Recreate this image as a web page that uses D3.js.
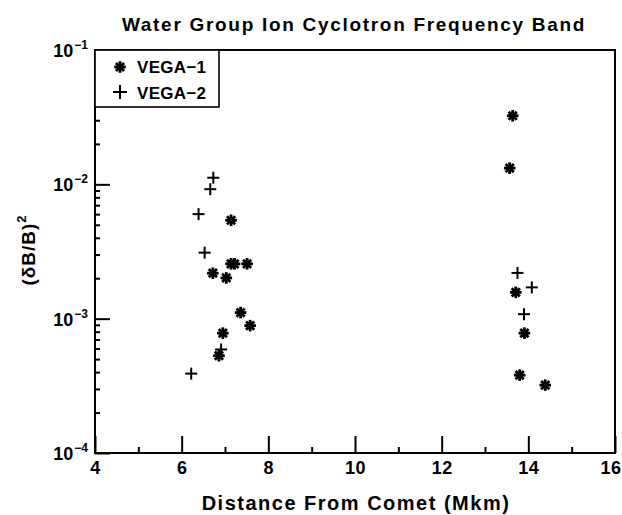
<!DOCTYPE html>
<html>
<head>
<meta charset="utf-8">
<script src="https://cdn.jsdelivr.net/npm/d3@7"></script>
<style>
  body { margin: 0; background: #fff; }
  text { font-family: "Liberation Sans", Arial, sans-serif; fill: #000; }
</style>
</head>
<body>
<div id="plot"></div>
<script>
// chart size and plot box
var width = 622,
    height = 515,
    margin = {top: 50, right: 7, bottom: 62, left: 95};

// VEGA-1 points (asterisks)
var vega1X = [7.14, 7.14, 7.22, 7.51, 6.72, 7.03, 7.36, 7.58, 6.95, 6.86,
              13.64, 13.57, 13.71, 13.91, 13.80, 14.39];
var vega1Y = [0.0054, 0.00256, 0.00256, 0.00256, 0.00218, 0.00201, 0.00111, 0.000887, 0.00078, 0.00053,
              0.0324, 0.0132, 0.00157, 0.00078, 0.00038, 0.00032];

// VEGA-2 points (plus signs)
var vega2X = [6.73, 6.66, 6.39, 6.53, 6.91, 6.22, 13.75, 14.08, 13.90];
var vega2Y = [0.0112, 0.0092, 0.0060, 0.0031, 0.00059, 0.00039, 0.00219, 0.00171, 0.00108];

var xTicks = [4, 6, 8, 10, 12, 14, 16];
var xMinor = [5, 7, 9, 11, 13, 15];
var yExp = [-4, -3, -2, -1];

var svg = d3.select("#plot").append("svg")
    .attr("width", width)
    .attr("height", height);

var x = d3.scaleLinear().domain([4, 16]).range([margin.left, width - margin.right]);
var y = d3.scaleLog().domain([1e-4, 1e-1]).range([height - margin.bottom, margin.top]);

// minor log ticks 2..9 in each decade
var yMinor = [];
yExp.slice(0, 3).forEach(function(e) {
  for (var m = 2; m <= 9; m++) yMinor.push(m * Math.pow(10, e));
});

// plot frame
svg.append("rect")
    .attr("x", x(4)).attr("y", y(1e-1))
    .attr("width", x(16) - x(4)).attr("height", y(1e-4) - y(1e-1))
    .attr("fill", "none").attr("stroke", "#000").attr("stroke-width", 2);

// x axis, ticks inward
var xAxis = svg.append("g").attr("transform", "translate(0," + y(1e-4) + ")");
xAxis.call(d3.axisBottom(x).tickValues(xTicks).tickSizeInner(-17).tickSizeOuter(0).tickPadding(8).tickFormat(d3.format("d")));
svg.append("g").attr("transform", "translate(0," + y(1e-4) + ")")
    .call(d3.axisBottom(x).tickValues(xMinor).tickSizeInner(-6).tickSizeOuter(0).tickFormat(""));

// y axis, ticks inward
var yAxis = svg.append("g").attr("transform", "translate(" + x(4) + ",0)");
yAxis.call(d3.axisLeft(y).tickValues(yExp.map(function(e) { return Math.pow(10, e); }))
    .tickSizeInner(-15).tickSizeOuter(0).tickFormat(""));
svg.append("g").attr("transform", "translate(" + x(4) + ",0)")
    .call(d3.axisLeft(y).tickValues(yMinor).tickSizeInner(-5).tickSizeOuter(0).tickFormat(""));

svg.selectAll(".domain").remove();
svg.selectAll(".tick line").attr("stroke", "#000").attr("stroke-width", 2);
xAxis.selectAll(".tick text")
    .attr("font-family", "Liberation Sans, Arial, sans-serif")
    .style("font-size", "18px").style("font-weight", "bold").style("letter-spacing", "0.5px");
// keep the last label inside the page
xAxis.selectAll(".tick text").filter(function(d) { return d === 16; })
    .attr("text-anchor", "end").attr("dx", 6);

// y tick labels as 10 with superscript exponent
var yLab = svg.append("g");
yExp.forEach(function(e) {
  var t = yLab.append("text")
      .attr("x", x(4) - 7)
      .attr("y", y(Math.pow(10, e)) + 7)
      .attr("text-anchor", "end")
      .style("font-size", "18px").style("font-weight", "bold");
  t.append("tspan").text("10");
  t.append("tspan").attr("dx", 1).attr("dy", -8).style("font-size", "12px").text(String(e).replace("-", "\u2212"));
});

// titles
svg.append("text")
    .attr("x", 354).attr("y", 31)
    .attr("text-anchor", "middle")
    .style("font-size", "19px").style("font-weight", "bold").style("letter-spacing", "1.7px")
    .text("Water Group Ion Cyclotron Frequency Band");

svg.append("text")
    .attr("x", 356).attr("y", 510)
    .attr("text-anchor", "middle")
    .style("font-size", "20px").style("font-weight", "bold").style("letter-spacing", "1.5px")
    .text("Distance From Comet (Mkm)");

var yt = svg.append("text")
    .attr("transform", "translate(35,250) rotate(-90)")
    .attr("text-anchor", "middle")
    .style("font-size", "19px").style("font-weight", "bold").style("letter-spacing", "1px");
yt.append("tspan").text("(\u03b4B/B)");
yt.append("tspan").attr("dy", -9).style("font-size", "13px").text("2");

// markers
function asterisk(g, r) {
  [0, 45, 90, 135].forEach(function(a) {
    g.append("line")
        .attr("x1", -r).attr("x2", r).attr("y1", 0).attr("y2", 0)
        .attr("transform", "rotate(" + a + ")")
        .attr("stroke", "#000").attr("stroke-width", 2.8);
  });
  g.append("circle").attr("r", r * 0.6).attr("fill", "#000");
}
function plus(g, r) {
  g.append("line").attr("x1", -r).attr("x2", r).attr("stroke", "#000").attr("stroke-width", 2);
  g.append("line").attr("y1", -r).attr("y2", r).attr("stroke", "#000").attr("stroke-width", 2);
}

vega1X.forEach(function(d, i) {
  var g = svg.append("g").attr("transform", "translate(" + x(d) + "," + y(vega1Y[i]) + ")");
  asterisk(g, 5.8);
});
vega2X.forEach(function(d, i) {
  var g = svg.append("g").attr("transform", "translate(" + x(d) + "," + y(vega2Y[i]) + ")");
  plus(g, 6);
});

// legend box
var leg = svg.append("g");
leg.append("rect")
    .attr("x", x(4)).attr("y", y(1e-1))
    .attr("width", 124).attr("height", 57)
    .attr("fill", "#fff").attr("stroke", "#000").attr("stroke-width", 1.6);
asterisk(leg.append("g").attr("transform", "translate(120,67)"), 5.8);
plus(leg.append("g").attr("transform", "translate(120,92)"), 7);
leg.append("text").attr("x", 137).attr("y", 73)
    .style("font-size", "17px").style("font-weight", "bold").style("letter-spacing", "0.3px").text("VEGA\u22121");
leg.append("text").attr("x", 137).attr("y", 99)
    .style("font-size", "17px").style("font-weight", "bold").style("letter-spacing", "0.3px").text("VEGA\u22122");
</script>
</body>
</html>
